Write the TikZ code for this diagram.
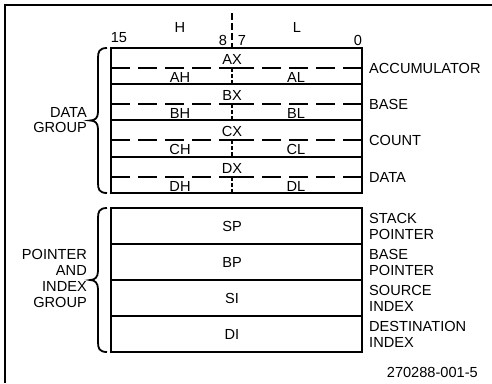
\documentclass[tikz,border=0pt]{standalone}
\usepackage{fontspec}
\setmainfont{Liberation Sans}
\begin{document}
\begin{tikzpicture}[x=1pt,y=-1pt,
  lbl/.style={font=\fontsize{14.6}{16}\selectfont, inner sep=0pt, text=black},
  boxline/.style={line width=2.2pt, draw=black},
  hdash/.style={line width=2.2pt, dash pattern=on 19pt off 8pt},
  vdash/.style={line width=1.8pt, dash pattern=on 4pt off 2pt},
  topdash/.style={line width=2.2pt, dash pattern=on 7pt off 3pt},
  bracestyle/.style={line width=1.8pt},
  framestyle/.style={line width=1.8pt}]
\useasboundingbox (0,0) rectangle (492,383);
% frame
\draw[framestyle] (5,383) -- (5,5) -- (492,5);
% header
\node[lbl] (hH) at (180,27) {H};
\node[lbl] (hL) at (297,27) {L};
\node[lbl] (n15) at (119,38) {15};
\node[lbl] (n8) at (223,40) {8};
\node[lbl] (n7) at (242,40) {7};
\node[lbl] (n0) at (358,40) {0};
\draw[topdash] (232,13) -- (232,48);
% data group
\draw[boxline] (111,48) rectangle (362,193);
\foreach \i/\t/\b/\a/\h/\l/\nm in {0/48/84/AX/AH/AL/ACCUMULATOR, 1/84/120/BX/BH/BL/BASE, 2/120/157/CX/CH/CL/COUNT, 3/157/193/DX/DH/DL/DATA}{
  \ifnum\i>0 \draw[boxline] (111,\t) -- (362,\t); \fi
  \draw[hdash] (111,\t+20) -- (226,\t+20);
  \draw[hdash] (362,\t+20) -- (238,\t+20);
  \draw[line width=2.2pt] (226,\t+20) -- (238,\t+20);
  \draw[vdash] (232,\t+20) -- (232,\b);
  \node[lbl] (x\i) at (232,\t+11) {\a};
  \node[lbl] (h\i) at (180,\t+29) {\h};
  \node[lbl] (l\i) at (296,\t+29) {\l};
  \node[lbl, anchor=west] (r\i) at (369,\t+20) {\nm};
}
% data brace
\draw[bracestyle] (107,48) .. controls (99,48) and (98,52) .. (98,58) -- (98,112)
  .. controls (98,118) and (95,120.5) .. (90,120.5)
  .. controls (95,120.5) and (98,123) .. (98,129) -- (98,183)
  .. controls (98,189) and (99,193) .. (107,193);
\node[lbl, anchor=east, align=right, font=\fontsize{14.6}{15}\selectfont] (dg) at (87,120.5) {DATA\\GROUP};
% pointer group
\draw[boxline] (111,208) rectangle (362,352);
\foreach \i/\t/\a/\nm in {0/208/SP/{STACK\\POINTER}, 1/244/BP/{BASE\\POINTER}, 2/280/SI/{SOURCE\\INDEX}, 3/316/DI/{DESTINATION\\INDEX}}{
  \ifnum\i>0 \draw[boxline] (111,\t) -- (362,\t); \fi
  \node[lbl] (p\i) at (232,\t+18) {\a};
  \node[lbl, anchor=west, align=left] (q\i) at (369,\t+18) {\nm};
}
\draw[bracestyle] (107,208) .. controls (99,208) and (98,212) .. (98,218) -- (98,271)
  .. controls (98,277) and (95,280) .. (90,280)
  .. controls (95,280) and (98,283) .. (98,289) -- (98,342)
  .. controls (98,348) and (99,352) .. (107,352);
\node[lbl, anchor=east, align=right] (pg) at (87,278) {POINTER\\AND\\INDEX\\GROUP};
% figure number
\node[lbl, anchor=east] (fig) at (478,372) {270288-001-5};
\end{tikzpicture}
\end{document}
